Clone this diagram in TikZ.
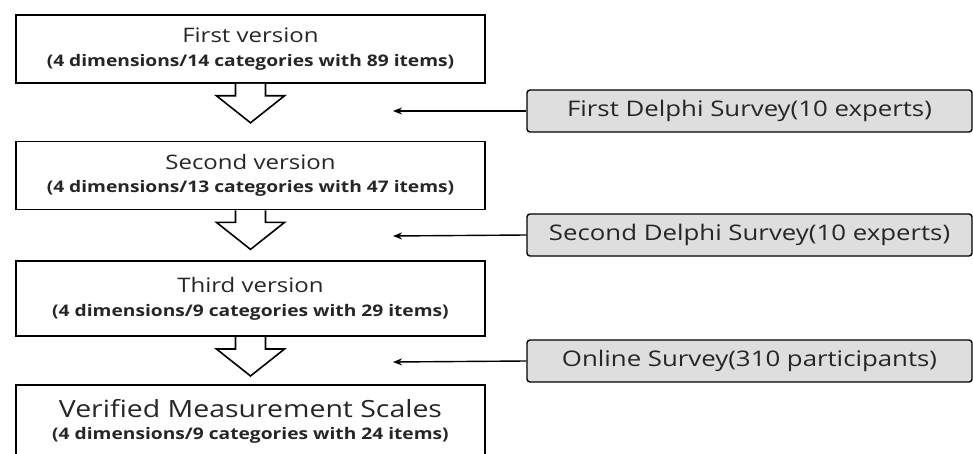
\documentclass[tikz,border=0pt]{standalone}
\usepackage{fontspec}
\setmainfont{Open Sans}[FakeStretch=1.2]
\usetikzlibrary{positioning, arrows.meta}

\tikzset{
    hollowarrow/.pic={
      \draw[line width=1.6pt, fill=white, line join=miter] (-15pt,0pt) -- (-15pt,-12pt) -- (-34pt,-12pt) -- (0pt,-39pt) -- (34pt,-12pt) -- (15pt,-12pt) -- (15pt,0pt);
    }
  }

\begin{document}
\begin{tikzpicture}[x=1pt, y=-1pt,
    versionbox/.style={draw, line width=1.6pt, minimum width=469pt, align=center, inner sep=0pt, text=black!85},
    surveybox/.style={draw, line width=1.4pt, rounded corners=3pt, fill=black!13, minimum width=445pt, minimum height=42pt, inner sep=0pt, text=black!85, font=\fontsize{21.5}{24}\selectfont},
    feed/.style={line width=1.4pt, -{Stealth[length=9pt, width=7pt]}}]
        \useasboundingbox (0,0) rectangle (973,454);
        \node[versionbox, minimum height=68pt] (first) at (250.5,49) {\fontsize{20}{24}\selectfont First version\\[10pt]\fontsize{16}{18}\selectfont\bfseries (4 dimensions/14 categories with 89 items)};
        \node[versionbox, minimum height=68pt] (second) [below=57pt of first] {\fontsize{20}{24}\selectfont Second version\\[10pt]\fontsize{16}{18}\selectfont\bfseries (4 dimensions/13 categories with 47 items)};
        \node[versionbox, minimum height=75pt] (third) [below=50pt of second] {\fontsize{20}{24}\selectfont Third version\\[10pt]\fontsize{16}{18}\selectfont\bfseries (4 dimensions/9 categories with 29 items)};
        \node[versionbox, minimum height=73pt] (verified) [below=47pt of third] {\fontsize{23.7}{28}\selectfont Verified Measurement Scales\\[8pt]\fontsize{16}{18}\selectfont\bfseries (4 dimensions/9 categories with 24 items)};

        \pic at (first.south) {hollowarrow};
        \pic at (second.south) {hollowarrow};
        \pic at (third.south) {hollowarrow};

        \node[surveybox] (delphi1) at (749.5,111) {First Delphi Survey(10 experts)};
        \node[surveybox] (delphi2) at (749.5,235) {Second Delphi Survey(10 experts)};
        \node[surveybox] (online) at (749.5,361) {Online Survey(310 participants)};

        \coordinate (in1) at (393,111);
        \coordinate (in2) at (393,236);
        \coordinate (in3) at (393,362);
        \draw[feed] (delphi1.west) -- (in1);
        \draw[feed] (delphi2.west) -- (in2);
        \draw[feed] (online.west) -- (in3);
    \end{tikzpicture}
\end{document}
